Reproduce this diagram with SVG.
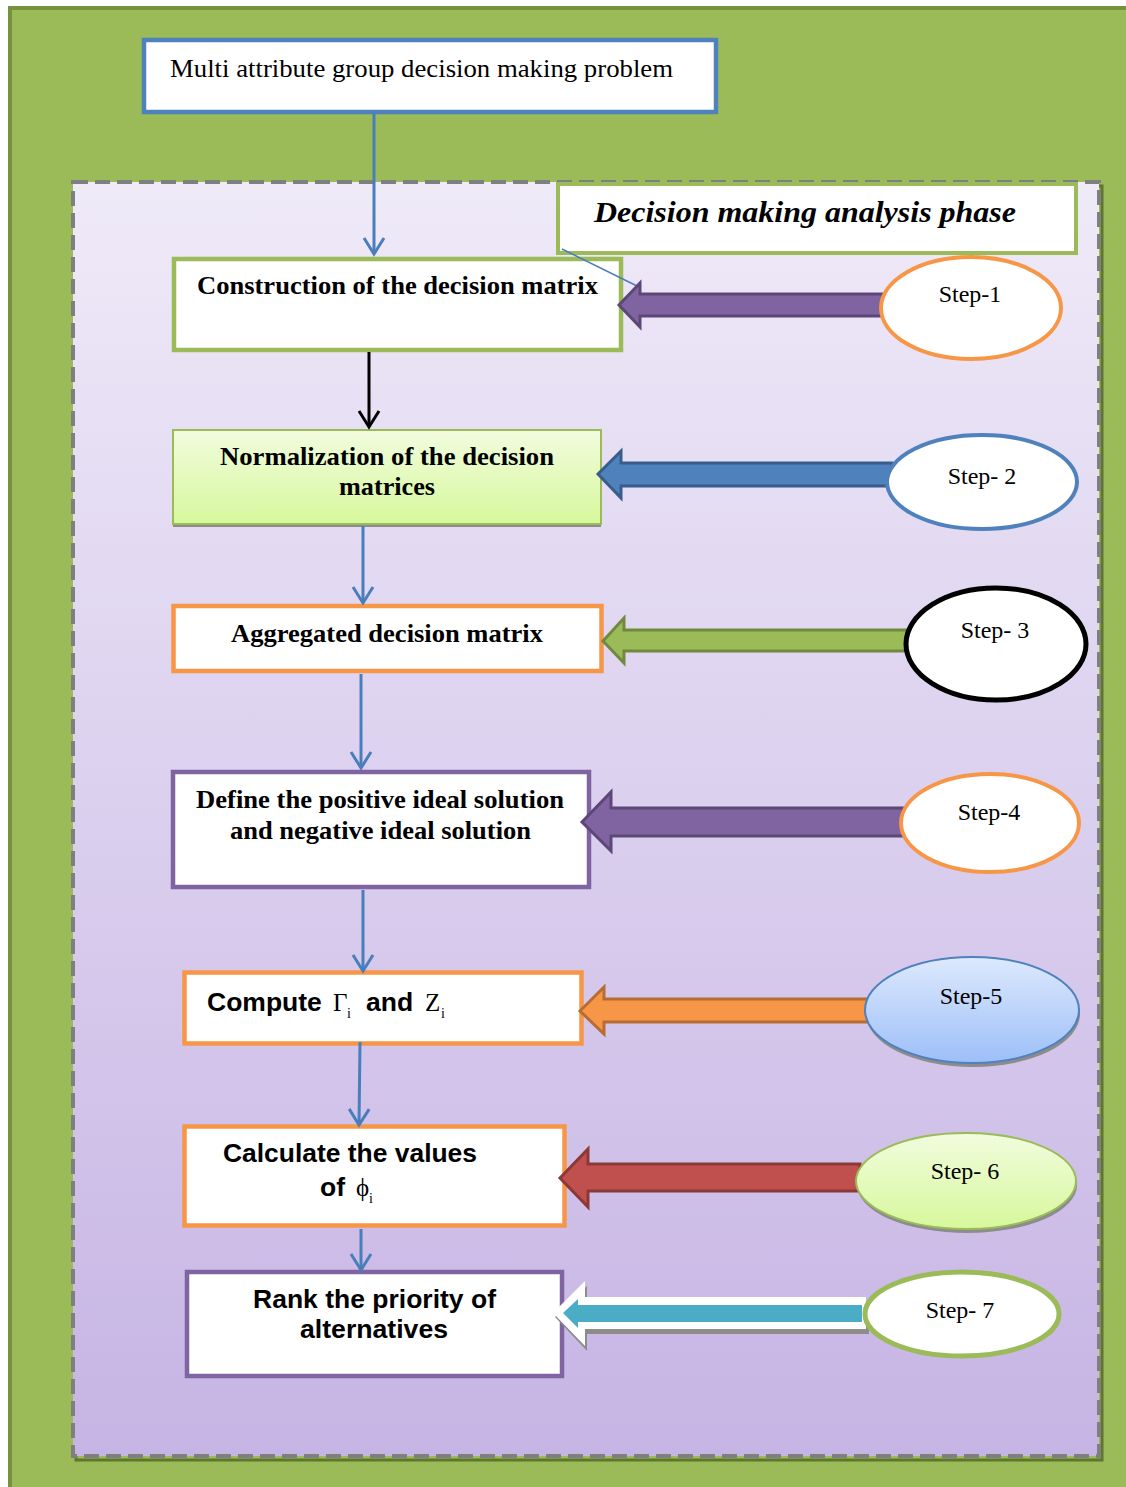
<svg xmlns="http://www.w3.org/2000/svg" width="1126" height="1487" viewBox="0 0 1126 1487">
<style>
.box{fill:#fff;stroke-width:4.5}
.g{stroke:#9BBB59}.o{stroke:#F79646}.p{stroke:#8064A2}.b{stroke:#4F81BD}
.ts{font-family:"Liberation Serif","Times New Roman",serif;font-size:26px;font-weight:bold;fill:#000}
.tb{font-family:"Liberation Sans",Arial,sans-serif;font-size:26.5px;font-weight:bold;fill:#000}
.st{font-family:"Liberation Serif","Times New Roman",serif;font-size:24px;fill:#000;text-anchor:middle}
.m{font-family:"Liberation Serif","Times New Roman",serif;font-size:25px;fill:#000}
.sub{font-family:"Liberation Serif","Times New Roman",serif;font-size:14px;fill:#000}
.conn{fill:none;stroke:#4A7EBB;stroke-width:3}
.ell{fill:#fff}
</style>
<defs>
<linearGradient id="bg" x1="0" y1="0" x2="0" y2="1">
<stop offset="0" stop-color="#EFEAF8"/><stop offset="1" stop-color="#C6B4E4"/>
</linearGradient>
<linearGradient id="gg" x1="0" y1="0" x2="0" y2="1">
<stop offset="0" stop-color="#F1FCDE"/><stop offset="1" stop-color="#D7F89C"/>
</linearGradient>
<linearGradient id="bl" x1="0" y1="0" x2="0" y2="1">
<stop offset="0" stop-color="#DDE9FD"/><stop offset="1" stop-color="#9DBFF8"/>
</linearGradient>
<marker id="vb" markerUnits="userSpaceOnUse" markerWidth="40" markerHeight="40" viewBox="-20 -20 40 40" refX="0" refY="0" orient="auto">
<path d="M-16,-10 L0,0 L-16,10" fill="none" stroke="#4A7EBB" stroke-width="3"/>
</marker>
<marker id="vk" markerUnits="userSpaceOnUse" markerWidth="40" markerHeight="40" viewBox="-20 -20 40 40" refX="0" refY="0" orient="auto">
<path d="M-16,-10 L0,0 L-16,10" fill="none" stroke="#000" stroke-width="3"/>
</marker>
</defs>

<!-- background frame -->
<rect x="0" y="0" width="1126" height="1487" fill="#fff"/>
<rect x="10" y="8" width="1120" height="1485" fill="#9BBB59" stroke="#76923C" stroke-width="4"/>
<rect x="76" y="186" width="1026" height="1274" fill="none" stroke="#5F7530" stroke-width="3"/>
<rect x="73" y="182" width="1026" height="1274" fill="url(#bg)" stroke="#7F7F7F" stroke-width="4" stroke-dasharray="15 7"/>

<g id="title">
<rect x="558" y="184" width="518" height="69" fill="#fff" stroke="#9BBB59" stroke-width="4"/>
<text x="594" y="222" font-family="'Liberation Serif','Times New Roman',serif" font-size="29" font-weight="bold" font-style="italic" textLength="422" lengthAdjust="spacingAndGlyphs">Decision making analysis phase</text>
</g>

<g id="problem">
<rect x="144" y="40" width="572" height="72" class="box b"/>
<text x="170" y="77" class="m" font-size="23" textLength="503" lengthAdjust="spacingAndGlyphs">Multi attribute group decision making problem</text>
</g>

<g id="step1">
<rect x="174" y="259" width="447" height="91" class="box g"/>
<text x="197" y="294" class="ts" textLength="401" lengthAdjust="spacingAndGlyphs">Construction of the decision matrix</text>
</g>

<g id="step2">
<rect x="173" y="433" width="428" height="94" fill="#8C8C8C"/>
<rect x="173" y="430" width="428" height="94" fill="url(#gg)" stroke="#9BBB59" stroke-width="2"/>
<text x="220" y="465" class="ts" textLength="334" lengthAdjust="spacingAndGlyphs">Normalization of the decision</text>
<text x="339" y="495" class="ts" textLength="96" lengthAdjust="spacingAndGlyphs">matrices</text>
</g>

<g id="step3">
<rect x="173.5" y="606" width="428" height="65" class="box o"/>
<text x="231" y="642" class="ts" textLength="312" lengthAdjust="spacingAndGlyphs">Aggregated decision matrix</text>
</g>

<g id="step4">
<rect x="173" y="772" width="416" height="115" class="box p"/>
<text x="196" y="808" class="ts" textLength="368" lengthAdjust="spacingAndGlyphs">Define the positive ideal solution</text>
<text x="230" y="839" class="ts" textLength="301" lengthAdjust="spacingAndGlyphs">and negative ideal solution</text>
</g>

<g id="step5">
<rect x="184.5" y="972.5" width="397" height="71" class="box o"/>
<text x="207" y="1011" class="tb">Compute</text>
<text x="333" y="1011" class="m">Γ</text>
<text x="347" y="1018" class="sub">i</text>
<text x="366" y="1011" class="tb">and</text>
<text x="425" y="1011" class="m">Z</text>
<text x="441" y="1018" class="sub">i</text>
</g>

<g id="step6">
<rect x="184.5" y="1126.5" width="380" height="99" class="box o"/>
<text x="223" y="1162" class="tb" textLength="254" lengthAdjust="spacingAndGlyphs">Calculate the values</text>
<text x="320" y="1196" class="tb">of</text>
<text x="356" y="1196" class="m">ϕ</text>
<text x="369" y="1203" class="sub">i</text>
</g>

<g id="step7">
<rect x="187" y="1272" width="375" height="104" class="box p"/>
<text x="253" y="1308" class="tb" textLength="243" lengthAdjust="spacingAndGlyphs">Rank the priority of</text>
<text x="300" y="1338" class="tb" textLength="148" lengthAdjust="spacingAndGlyphs">alternatives</text>
</g>

<g id="connectors">
<line x1="374" y1="114" x2="374" y2="254" class="conn" marker-end="url(#vb)"/>
<line x1="562" y1="249" x2="637" y2="286" stroke="#4A7EBB" stroke-width="1.5"/>
<line x1="369" y1="352" x2="369" y2="427" fill="none" stroke="#000" stroke-width="3" marker-end="url(#vk)"/>
<line x1="363" y1="526" x2="363" y2="603" class="conn" marker-end="url(#vb)"/>
<line x1="361" y1="674" x2="361" y2="768" class="conn" marker-end="url(#vb)"/>
<line x1="363" y1="890" x2="363" y2="971" class="conn" marker-end="url(#vb)"/>
<line x1="360" y1="1042" x2="359" y2="1125" class="conn" marker-end="url(#vb)"/>
<line x1="361" y1="1229" x2="361" y2="1270" class="conn" marker-end="url(#vb)"/>
</g>

<g id="block-arrows" stroke-width="3" stroke-linejoin="miter">
<path d="M619,305 L640,283 L640,294 L884,294 L884,316 L640,316 L640,327 Z" fill="#8064A2" stroke="#5C4776"/>
<path d="M598,474 L621,451 L621,463 L892,463 L892,486 L621,486 L621,498 Z" fill="#4F81BD" stroke="#385D8A"/>
<path d="M603,641 L624,618 L624,630 L908,630 L908,651 L624,651 L624,663 Z" fill="#9BBB59" stroke="#71893F"/>
<path d="M582,822 L611,792 L611,808 L903,808 L903,836 L611,836 L611,851 Z" fill="#8064A2" stroke="#5C4776"/>
<path d="M580,1011 L604,987 L604,999 L868,999 L868,1022 L604,1022 L604,1034 Z" fill="#F79646" stroke="#B66D31"/>
<path d="M560,1178 L588,1149 L588,1164 L860,1164 L860,1191 L588,1191 L588,1207 Z" fill="#C0504D" stroke="#8C3836"/>
<path d="M555,1317 L587,1286 L587,1302 L869,1302 L869,1334 L587,1334 L587,1351 Z" fill="#8C8C8C" stroke="none"/>
<path d="M553,1313 L585,1281 L585,1297 L866,1297 L866,1329 L585,1329 L585,1346 Z" fill="#fff" stroke="none"/>
<path d="M563,1313 L578,1299 L578,1305 L862,1305 L862,1322 L578,1322 L578,1328 Z" fill="#4BACC6" stroke="none"/>
</g>

<g id="ellipse1">
<ellipse cx="971" cy="308" rx="90" ry="51" class="ell" stroke="#F79646" stroke-width="4"/>
<text x="970" y="302" class="st">Step-1</text>
</g>
<g id="ellipse2">
<ellipse cx="982" cy="482" rx="95" ry="47" class="ell" stroke="#4F81BD" stroke-width="4"/>
<text x="982" y="484" class="st">Step- 2</text>
</g>
<g id="ellipse3">
<ellipse cx="996" cy="644" rx="90" ry="56" class="ell" stroke="#000" stroke-width="5"/>
<text x="995" y="638" class="st">Step- 3</text>
</g>
<g id="ellipse4">
<ellipse cx="990" cy="823" rx="89" ry="49" class="ell" stroke="#F79646" stroke-width="4"/>
<text x="989" y="820" class="st">Step-4</text>
</g>
<g id="ellipse5">
<ellipse cx="973" cy="1014" rx="107" ry="53" fill="#8C8C8C"/>
<ellipse cx="972" cy="1010" rx="107" ry="53" fill="url(#bl)" stroke="#4F81BD" stroke-width="2"/>
<text x="971" y="1004" class="st">Step-5</text>
</g>
<g id="ellipse6">
<ellipse cx="967" cy="1185" rx="110" ry="48" fill="#8C8C8C"/>
<ellipse cx="966" cy="1181" rx="110" ry="48" fill="url(#gg)" stroke="#9BBB59" stroke-width="2"/>
<text x="965" y="1179" class="st">Step- 6</text>
</g>
<g id="ellipse7">
<ellipse cx="962" cy="1314" rx="97" ry="42" class="ell" stroke="#9BBB59" stroke-width="5"/>
<text x="960" y="1318" class="st">Step- 7</text>
</g>
</svg>
